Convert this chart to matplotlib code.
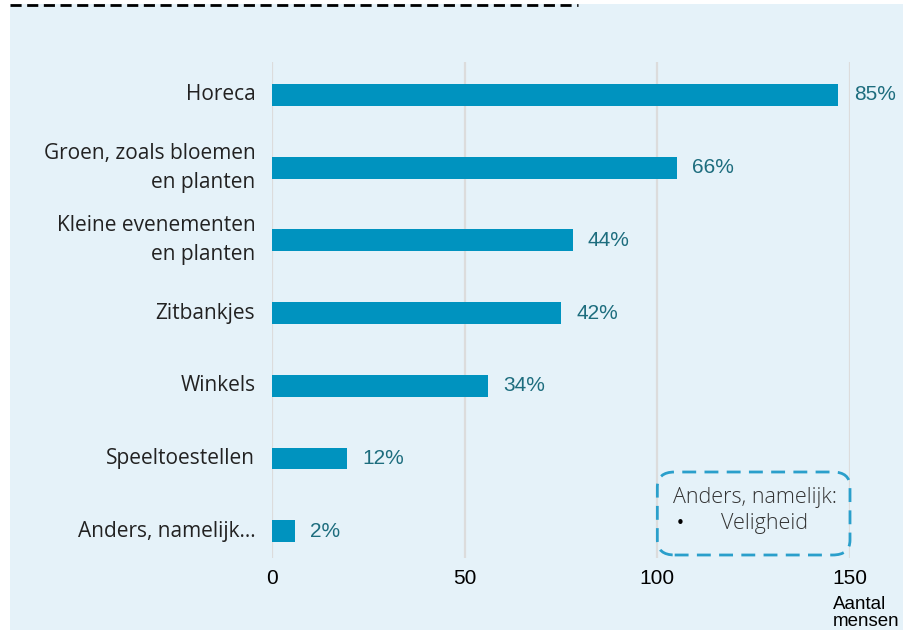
import matplotlib.pyplot as plt
from matplotlib.patches import FancyBboxPatch, Rectangle
from matplotlib.lines import Line2D

categories = ["Horeca", "Groen, zoals bloemen\nen planten", "Kleine evenementen\nen planten",
              "Zitbankjes", "Winkels", "Speeltoestellen", "Anders, namelijk..."]
counts = [147, 105, 78, 75, 56, 19.5, 6]
percent_labels = ["85%", "66%", "44%", "42%", "34%", "12%", "2%"]
x_ticks = [0, 50, 100, 150]

bg = "#e5f2f9"
bar_color = "#0093bf"

fig = plt.figure(figsize=(9.15, 6.3), dpi=100)
fig.patch.set_facecolor("white")

# light blue panel behind the chart
fig.patches.append(Rectangle((10 / 915, 0), 893 / 915, 1 - 4 / 630, transform=fig.transFigure,
                             facecolor=bg, edgecolor="none", zorder=-5))
fig.lines.append(Line2D([10 / 915, 578 / 915], [1 - 5 / 630, 1 - 5 / 630], transform=fig.transFigure,
                        color="black", lw=2, linestyle=(0, (4, 2)), zorder=-4))

ax = fig.add_axes([272 / 915, 1 - 558 / 630, 578 / 915, 496 / 630])
ax.set_facecolor("none")
ax.set_zorder(1)

y = list(range(len(categories)))
ax.barh(y, counts, height=0.3, color=bar_color, zorder=3)
ax.set_xlim(0, 150)
ax.set_ylim(len(categories) - 1 + 0.37, -0.454)

for yi, c, lab in zip(y, counts, percent_labels):
    ax.annotate(lab, (c, yi), xytext=(11, 0), textcoords="offset points", va="center", ha="left",
                fontsize=15, color="#1d6d7e", family="Liberation Sans")

ax.set_xticks(x_ticks)
ax.set_xticklabels([str(t) for t in x_ticks], fontsize=15, family="Liberation Sans", color="black")
ax.set_yticks(y)
ax.set_yticklabels(categories, fontsize=15, family="Open Sans", color="#222222", linespacing=1.5)
for t in ax.get_yticklabels():
    t.set_va("center")
ax.tick_params(axis="both", length=0)
ax.tick_params(axis="x", pad=8)
ax.tick_params(axis="y", pad=12)
ax.grid(axis="x", color="#dcdcdc", lw=1.6, zorder=1)
for s in ax.spines.values():
    s.set_visible(False)

# axis caption under the 150 tick, as two lines
ax.text(833 / 915, 1 - 609 / 630, "Aantal", transform=fig.transFigure, ha="left", va="baseline",
        fontsize=13.5, family="Liberation Sans", color="black")
ax.text(833 / 915, 1 - 626 / 630, "mensen", transform=fig.transFigure, ha="left", va="baseline",
        fontsize=13.5, family="Liberation Sans", color="black")

# note box
box = FancyBboxPatch((100 / 150, 3 / 496), 50 / 150, 83 / 496, transform=ax.transAxes,
                     boxstyle="round,pad=0,rounding_size=0.03", facecolor="none",
                     edgecolor="#2a9fcb", lw=2, linestyle=(0, (5, 3)), zorder=4, clip_on=False)
ax.add_patch(box)
ax.text(673 / 915, 1 - 497 / 630, "Anders, namelijk:", transform=fig.transFigure, va="center",
        ha="left", fontsize=15.5, family="Open Sans", fontweight="light", color="#333333")
ax.text(676 / 915, 1 - 524 / 630, "•", transform=fig.transFigure, va="center",
        ha="left", fontsize=11, family="DejaVu Sans", color="black")
ax.text(721 / 915, 1 - 524 / 630, "Veligheid", transform=fig.transFigure, va="center",
        ha="left", fontsize=15.5, family="Open Sans", fontweight="light", color="#333333")

fig.savefig("out.png", dpi=100, facecolor="white")
